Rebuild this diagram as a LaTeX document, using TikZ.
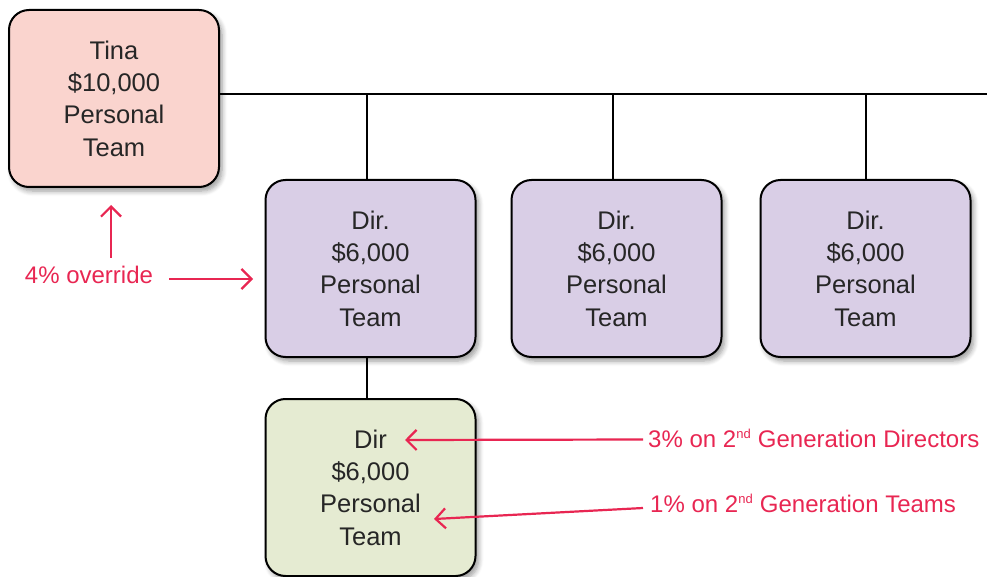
\documentclass[tikz,border=0pt]{standalone}
\usepackage{fontspec}
\setmainfont{Liberation Sans}
\usetikzlibrary{arrows.meta,shadows.blur}

\definecolor{tinafill}{RGB}{250,212,206}
\definecolor{dirfill}{RGB}{217,206,230}
\definecolor{genfill}{RGB}{229,235,210}
\definecolor{note}{RGB}{232,38,82}

\tikzset{
  member/.style={draw=black, line width=2pt, rounded corners=20pt,
    minimum width=210pt, minimum height=177pt, align=center,
    font=\fontsize{25.5}{32.3}\selectfont, text=black!85,
    blur shadow={shadow xshift=3pt, shadow yshift=-4pt, shadow blur steps=6, shadow blur radius=5pt, shadow opacity=40}},
  link/.style={line width=2pt, draw=black},
  notetext/.style={text=note, font=\fontsize{24}{28}\selectfont, inner sep=0pt},
  notearrow/.style={draw=note, line width=2.2pt,
    -{Straight Barb[length=10pt, width=20pt, line width=2.2pt]}}
}

\newcommand{\nd}{\textsuperscript{\fontsize{13}{13}\selectfont nd}}

\begin{document}
\begin{tikzpicture}[x=1pt, y=-1pt]
  \useasboundingbox (0,0) rectangle (987,577);

  % people
  \node[member, fill=tinafill] (tina) at (114,98.5) {Tina\\\$10,000\\Personal\\Team};
  \node[member, fill=dirfill] (dirA) at (370.5,268.5) {Dir.\\\$6,000\\Personal\\Team};
  \node[member, fill=dirfill] (dirB) at (616.5,268.5) {Dir.\\\$6,000\\Personal\\Team};
  \node[member, fill=dirfill] (dirC) at (865.5,268.5) {Dir.\\\$6,000\\Personal\\Team};
  \node[member, fill=genfill] (gen) at (370.5,487.5) {Dir\\\$6,000\\Personal\\Team};

  % reporting lines
  \coordinate (busstart) at (219,94);
  \coordinate (busend) at (987,94);
  \draw[link] (busstart) -- (busend);
  \draw[link] ([xshift=-3.5pt]dirA.north |- busend) -- ([xshift=-3.5pt]dirA.north);
  \draw[link] ([xshift=-3.5pt]dirB.north |- busend) -- ([xshift=-3.5pt]dirB.north);
  \draw[link] (dirC.north |- busend) -- (dirC.north);
  \draw[link] ([xshift=-3.5pt]dirA.south) -- ([xshift=-3.5pt]gen.north);

  % override notes
  \node[notetext] (ovr) at (89,275) {4\% override};
  \coordinate (ovrup) at (111,205);
  \coordinate (ovrright) at (253,279);
  \draw[notearrow] (111,258) -- (ovrup);
  \draw[notearrow] ([xshift=16pt,yshift=-4pt]ovr.east) -- (ovrright);

  \node[notetext, anchor=west] (dirnote) at (648,438) {3\% on 2\nd{} Generation Directors};
  \node[notetext, anchor=west] (teamnote) at (650,503) {1\% on 2\nd{} Generation Teams};
  \coordinate (dirtip) at (405,440);
  \coordinate (teamtip) at (434,519);
  \draw[notearrow] ([xshift=-5pt,yshift=-1.5pt]dirnote.west) -- (dirtip);
  \draw[notearrow] ([xshift=-7pt,yshift=-5pt]teamnote.west) -- (teamtip);
\end{tikzpicture}
\end{document}
